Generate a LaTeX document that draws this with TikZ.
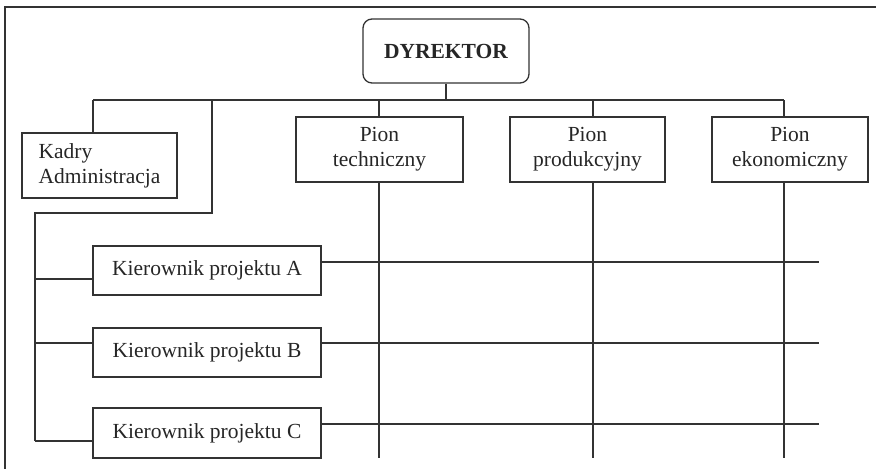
\documentclass[tikz,border=0pt]{standalone}
\usepackage{fontspec}
\setmainfont{Liberation Serif}
\definecolor{ink}{HTML}{333333}
\definecolor{txt}{HTML}{262626}
\tikzset{
  box/.style={draw=ink, line width=1.3pt, inner sep=0pt, text=txt, align=center,
              font=\fontsize{21.5}{25}\selectfont},
  lin/.style={draw=ink, line width=1.3pt},
}
\begin{document}
\begin{tikzpicture}[x=1pt,y=-1pt]
\useasboundingbox (0,0) rectangle (876,469);
% frame
\draw[lin] (876,7) -- (5,7) -- (5,469);
% nodes
\node[box, rounded corners=9pt, minimum width=166pt, minimum height=64pt,
      font=\fontsize{21.5}{25}\selectfont\bfseries] (dyr) at (446,51) {DYREKTOR};
\node[box, align=left, minimum width=155pt, minimum height=65pt] (kadry) at (99.5,165.5) {Kadry\\Administracja};
\node[box, minimum width=167pt, minimum height=65pt] (tech) at (379.5,149.5) {Pion\\techniczny};
\node[box, minimum width=155pt, minimum height=65pt] (prod) at (587.5,149.5) {Pion\\produkcyjny};
\node[box, minimum width=156pt, minimum height=65pt] (eko) at (790,149.5) {Pion\\ekonomiczny};
\node[box, minimum width=228pt, minimum height=49pt] (kA) at (207,270.5) {Kierownik projektu A};
\node[box, minimum width=228pt, minimum height=49pt] (kB) at (207,352.5) {Kierownik projektu B};
\node[box, minimum width=228pt, minimum height=50pt] (kC) at (207,433) {Kierownik projektu C};
% bus coordinates
\coordinate (bL) at (93,100);
\coordinate (bR) at (784,100);
\coordinate (bD) at (446,100);
\coordinate (bP) at (212,100);
\coordinate (sT) at (379,100);
\coordinate (sP) at (593,100);
\coordinate (sE) at (784,100);
\coordinate (corner) at (212,213);
\coordinate (left) at (35,213);
\coordinate (lA) at (35,279);
\coordinate (lB) at (35,343);
\coordinate (lC) at (35,441);
\coordinate (bot) at (0,458);
\coordinate (endx) at (819,0);
% connectors
\draw[lin] (dyr.south -| bD) -- (bD);
\draw[lin] (bL) -- (bR);
\draw[lin] (bL) -- (bL |- kadry.north);
\draw[lin] (sT) -- (sT |- tech.north);
\draw[lin] (sP) -- (sP |- prod.north);
\draw[lin] (sE) -- (sE |- eko.north);
\draw[lin] (bP) -- (corner) -- (left) -- (lC);
\draw[lin] (lA) -- (lA -| kA.west);
\draw[lin] (lB) -- (lB -| kB.west);
\draw[lin] (lC) -- (lC -| kC.west);
% verticals from divisions
\draw[lin] (sT |- tech.south) -- (sT |- bot);
\draw[lin] (sP |- prod.south) -- (sP |- bot);
\draw[lin] (sE |- eko.south) -- (sE |- bot);
% horizontals from project managers
\draw[lin] ([yshift=8.5pt]kA.east) -- ([yshift=8.5pt]kA.east -| endx);
\draw[lin] ([yshift=9.5pt]kB.east) -- ([yshift=9.5pt]kB.east -| endx);
\draw[lin] ([yshift=9pt]kC.east) -- ([yshift=9pt]kC.east -| endx);
\end{tikzpicture}
\end{document}
